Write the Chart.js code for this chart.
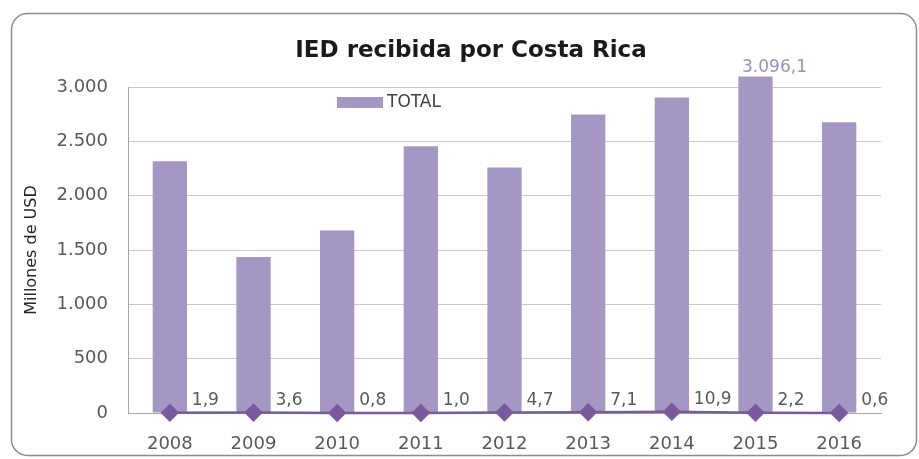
<!DOCTYPE html>
<html>
<head>
<meta charset="utf-8">
<script src="https://cdn.jsdelivr.net/npm/chart.js@4/dist/chart.umd.min.js"></script>
<style>
    body { margin: 0; background: #fff; }
    #caja { width: 919px; height: 459px; position: relative; }
</style>
</head>
<body>
<div id="caja"><canvas id="grafica"></canvas></div>
<script>
const anios = ["2008", "2009", "2010", "2011", "2012", "2013", "2014", "2015", "2016"];
const totales = [2317, 1435, 1680, 2455, 2259, 2746, 2904, 3096.1, 2676];
const porcentajes = [1.9, 3.6, 0.8, 1.0, 4.7, 7.1, 10.9, 2.2, 0.6];
const titulo = "IED recibida por Costa Rica";
const tituloEjeY = "Millones de USD";
const leyenda = "TOTAL";

const colorBarra = "#a597c3";
const colorLinea = "#7a5a9d";

function miles(valor) {
    return String(valor).replace(/\B(?=(\d{3})+(?!\d))/g, ".");
}

function decimal(valor) {
    const partes = valor.toFixed(1).split(".");
    return miles(partes[0]) + "," + partes[1];
}

// marco, titulo, leyenda y etiquetas a mano
const extras = {
    id: "extras",
    beforeDraw(chart) {
        const ctx = chart.ctx;
        ctx.save();
        ctx.strokeStyle = "#8c8c8c";
        ctx.lineWidth = 1.5;
        ctx.beginPath();
        ctx.roundRect(11.5, 13.5, 905, 442, 16);
        ctx.stroke();
        ctx.restore();
    },
    afterDatasetsDraw(chart) {
        const ctx = chart.ctx;
        ctx.save();
        ctx.font = "bold 23px 'DejaVu Sans', sans-serif";
        ctx.fillStyle = "#1a1a1a";
        ctx.textAlign = "center";
        ctx.textBaseline = "middle";
        ctx.fillText(titulo, 471, 51);

        ctx.fillStyle = colorBarra;
        ctx.fillRect(337, 97, 46, 11);
        ctx.font = "17px 'DejaVu Sans', sans-serif";
        ctx.fillStyle = "#404040";
        ctx.textAlign = "left";
        ctx.fillText(leyenda, 387, 103);

        const puntos = chart.getDatasetMeta(1).data;
        ctx.font = "17px 'DejaVu Sans', sans-serif";
        ctx.fillStyle = "#595959";
        puntos.forEach((p, i) => {
            ctx.fillText(decimal(porcentajes[i]), p.x + 22, p.y - 12);
        });

        const barras = chart.getDatasetMeta(0).data;
        const iMax = totales.indexOf(Math.max(...totales));
        ctx.fillStyle = "#9a8fbd";
        ctx.textAlign = "center";
        ctx.fillText(decimal(totales[iMax]), barras[iMax].x + 19, barras[iMax].y - 9);
        ctx.restore();
    }
};

const ctx = document.getElementById("grafica").getContext("2d");
Chart.defaults.font.family = "'DejaVu Sans', sans-serif";

new Chart(ctx, {
    type: "bar",
    data: {
        labels: anios,
        datasets: [
            {
                label: leyenda,
                data: totales,
                backgroundColor: colorBarra,
                categoryPercentage: 1,
                barPercentage: 0.41,
                clip: false,
                order: 1
            },
            {
                type: "line",
                label: "%",
                data: porcentajes,
                borderColor: colorLinea,
                borderWidth: 2.5,
                pointStyle: "rectRot",
                pointRadius: 7.5,
                pointBackgroundColor: colorLinea,
                pointBorderColor: colorLinea,
                clip: false,
                order: 0
            }
        ]
    },
    options: {
        responsive: true,
        maintainAspectRatio: false,
        animation: false,
        layout: { padding: { top: 87, right: 38, left: 0, bottom: 0 } },
        plugins: {
            legend: { display: false },
            tooltip: { enabled: false },
            title: { display: false }
        },
        scales: {
            x: {
                grid: { display: false, drawTicks: false },
                border: { color: "#a6a6a6", width: 1 },
                ticks: { color: "#595959", font: { size: 18 }, padding: 21, maxRotation: 0 },
                afterFit: (s) => { s.height = 46; }
            },
            y: {
                min: 0,
                max: 3000,
                grid: { color: "#c8c8c8", drawTicks: false },
                border: { color: "#a6a6a6", width: 1 },
                ticks: {
                    stepSize: 500,
                    color: "#595959",
                    font: { size: 18 },
                    padding: 20,
                    callback: (v) => miles(v)
                },
                title: {
                    display: true,
                    text: tituloEjeY,
                    color: "#262626",
                    font: { size: 16 },
                    padding: { top: 22, bottom: 0 }
                },
                afterFit: (s) => { s.width = 128; }
            }
        }
    },
    plugins: [extras]
});
</script>
</body>
</html>
